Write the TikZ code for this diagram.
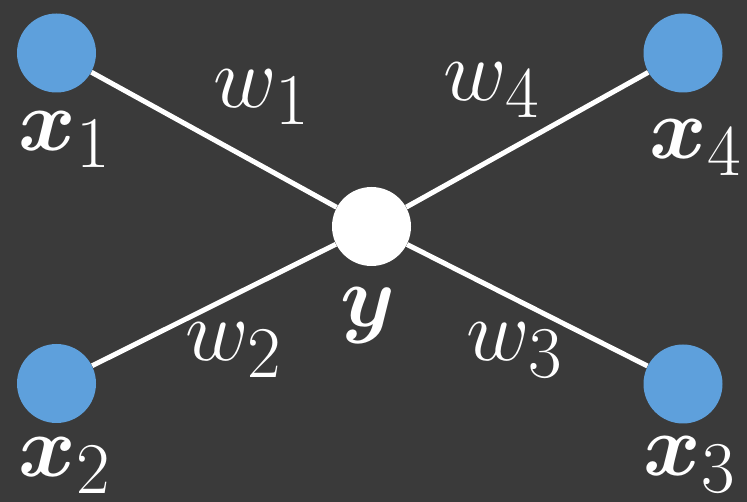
\documentclass[tikz,border=0pt]{standalone}
\usepackage{amsmath,bm}
\usetikzlibrary{positioning}
\definecolor{bgdark}{RGB}{58,58,58}
\definecolor{inblue}{RGB}{94,160,220}

\begin{document}
\begin{tikzpicture}[
        inp/.style={circle,fill=inblue,minimum size=1.58cm,inner sep=0pt},
        outp/.style={circle,fill=white,minimum size=1.58cm,inner sep=0pt},
        lab/.style={text=white,inner sep=0pt,font=\Huge,scale=2.0,transform shape},
        link/.style={draw=white,line width=0.1cm},
      ]
        \fill[bgdark](0,0)rectangle(14.94,10.04);
        \useasboundingbox(0,0)rectangle(14.94,10.04);
        % nodes
        \node[inp](x1)at(1.13,8.98){};
        \node[inp](x4)at(13.66,8.98){};
        \node[inp](x2)at(1.13,2.37){};
        \node[inp](x3)at(13.66,2.36){};
        \node[outp](y)at(7.43,5.51){};
        % connections
        \draw[link](x1)--(y);
        \draw[link](x4)--(y);
        \draw[link](x2)--(y);
        \draw[link](x3)--(y);
        % labels
        \node[lab](lx1)at(1.30,7.24){$\bm{x}_1$};
        \node[lab](lx4)at(13.92,7.08){$\bm{x}_4$};
        \node[lab](lx2)at(1.30,0.72){$\bm{x}_2$};
        \node[lab](lx3)at(13.80,0.74){$\bm{x}_3$};
        \node[lab](ly)at(7.36,3.72){$\bm{y}$};
        \node[lab](w1)at(5.24,8.10){$w_1$};
        \node[lab](w4)at(9.84,8.24){$w_4$};
        \node[lab](w2)at(4.68,3.04){$w_2$};
        \node[lab](w3)at(10.30,3.04){$w_3$};
      \end{tikzpicture}
\end{document}
